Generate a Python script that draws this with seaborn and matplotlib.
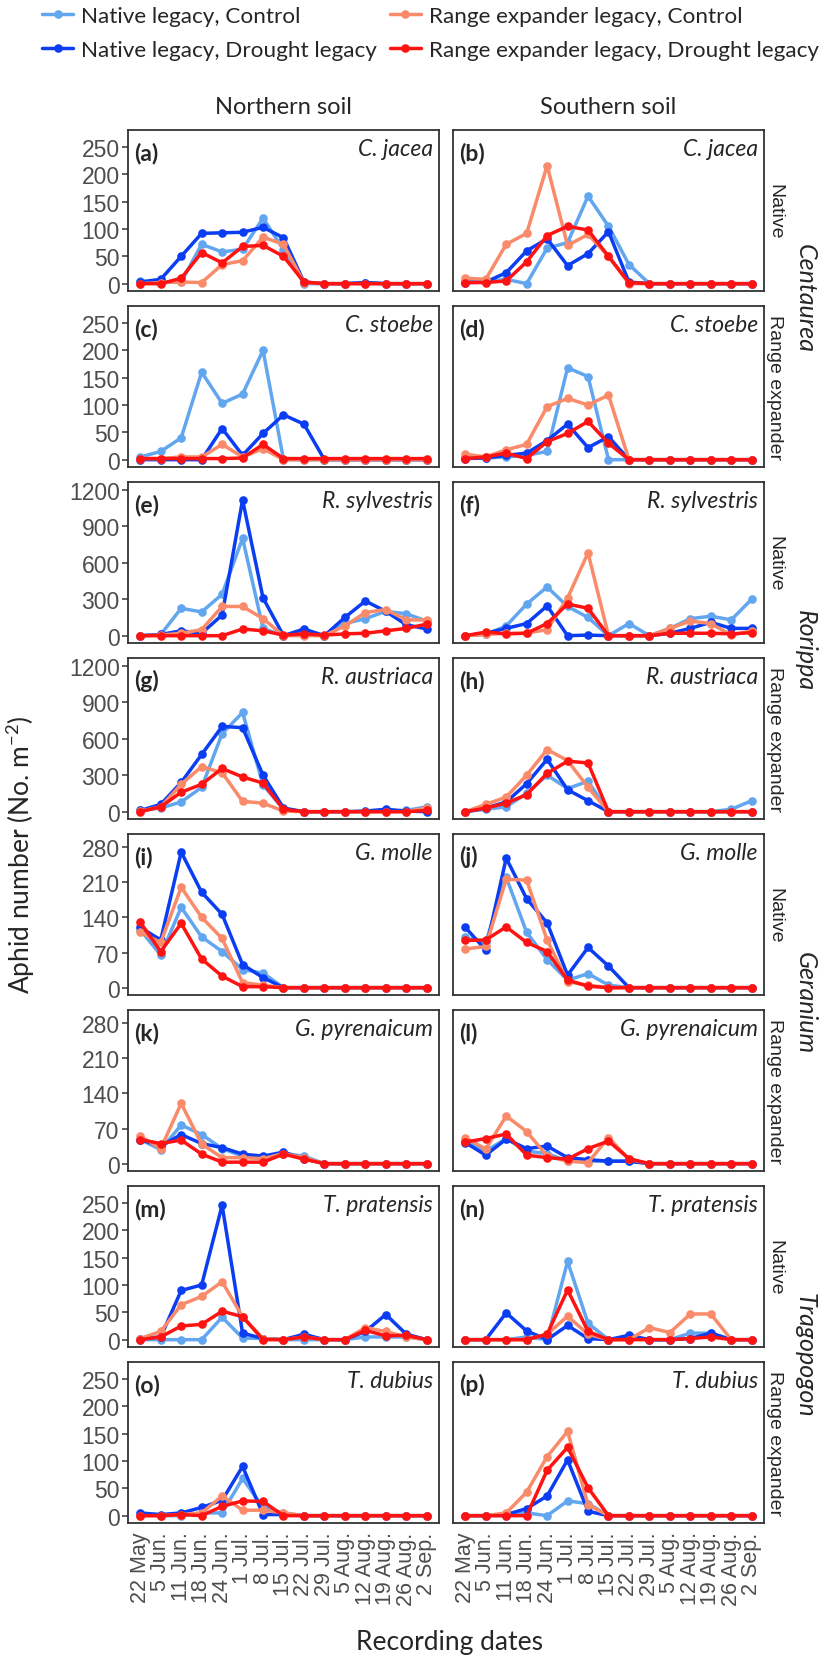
import matplotlib
matplotlib.use("Agg")
import matplotlib.pyplot as plt
from matplotlib.lines import Line2D
import pandas as pd
import seaborn as sns

# dates and treatments
dates = ["22 May", "5 Jun.", "11 Jun.", "18 Jun.", "24 Jun.", "1 Jul.", "8 Jul.",
         "15 Jul.", "22 Jul.", "29 Jul.", "5 Aug.", "12 Aug.", "19 Aug.", "26 Aug.", "2 Sep."]
treatments = ["Native legacy, Control", "Native legacy, Drought legacy",
              "Range expander legacy, Control", "Range expander legacy, Drought legacy"]
colors = ["#62A6F0", "#0B3DF2", "#F98A6A", "#FF1212"]

# each panel: native control, native drought, range exp. control, range exp. drought
panel_a = [[5, 2, 3, 72, 58, 63, 120, 62, 0, 0, 0, 2, 0, 0, 0],
           [3, 8, 50, 92, 93, 94, 103, 84, 3, 0, 0, 2, 0, 0, 0],
           [0, 2, 3, 2, 35, 42, 85, 72, 2, 0, 0, 0, 0, 0, 0],
           [0, 0, 10, 57, 38, 68, 70, 50, 3, 0, 0, 0, 0, 0, 0]]
panel_b = [[5, 3, 8, 0, 65, 75, 160, 105, 35, 0, 0, 0, 0, 0, 0],
           [2, 3, 20, 60, 82, 33, 55, 95, 3, 0, 0, 0, 0, 0, 0],
           [10, 8, 72, 92, 216, 70, 90, 50, 0, 0, 0, 0, 0, 0, 0],
           [2, 2, 5, 40, 88, 105, 98, 50, 2, 0, 0, 0, 0, 0, 0]]
panel_c = [[5, 15, 40, 160, 103, 120, 200, 0, 0, 0, 0, 0, 0, 0, 0],
           [0, 0, 0, 0, 57, 8, 48, 82, 65, 0, 0, 0, 0, 0, 0],
           [2, 2, 5, 5, 28, 5, 20, 0, 0, 0, 0, 0, 0, 0, 0],
           [2, 2, 2, 2, 2, 3, 28, 2, 2, 2, 2, 2, 2, 2, 2]]
panel_d = [[5, 3, 5, 8, 15, 168, 152, 0, 0, 0, 0, 0, 0, 0, 0],
           [2, 3, 8, 12, 35, 65, 22, 42, 0, 0, 0, 0, 0, 0, 0],
           [10, 5, 18, 28, 97, 112, 100, 118, 0, 0, 0, 0, 0, 0, 0],
           [2, 5, 12, 2, 33, 48, 70, 30, 0, 0, 0, 0, 0, 0, 0]]
panel_e = [[0, 10, 225, 195, 340, 800, 60, 0, 40, 0, 100, 140, 200, 180, 120],
           [0, 10, 40, 20, 170, 1115, 310, 0, 55, 0, 150, 285, 200, 90, 55],
           [0, 5, 20, 50, 240, 240, 140, 0, 0, 0, 80, 190, 215, 130, 130],
           [0, 0, 0, 0, 0, 55, 40, 5, 15, 5, 15, 20, 40, 60, 95]]
panel_f = [[0, 10, 80, 260, 400, 240, 150, 0, 100, 0, 60, 140, 160, 130, 300],
           [0, 20, 60, 100, 245, 0, 5, 0, 0, 0, 20, 60, 110, 60, 60],
           [0, 10, 20, 20, 50, 310, 680, 0, 0, 0, 60, 120, 100, 5, 40],
           [0, 30, 15, 20, 100, 260, 225, 0, 0, 0, 20, 20, 20, 15, 25]]
panel_g = [[10, 30, 80, 200, 640, 815, 220, 20, 0, 0, 0, 0, 5, 10, 40],
           [10, 60, 240, 470, 700, 690, 300, 30, 0, 0, 0, 5, 20, 5, 0],
           [5, 40, 225, 370, 320, 85, 70, 5, 0, 0, 0, 0, 0, 0, 30],
           [0, 40, 160, 225, 355, 285, 235, 20, 0, 0, 0, 0, 0, 0, 10]]
panel_h = [[0, 20, 40, 150, 300, 190, 250, 0, 0, 0, 0, 0, 0, 20, 90],
           [0, 30, 80, 230, 430, 180, 90, 0, 0, 0, 0, 0, 0, 0, 0],
           [0, 60, 120, 300, 510, 420, 200, 0, 0, 0, 0, 0, 0, 0, 0],
           [0, 30, 70, 140, 315, 415, 400, 0, 0, 0, 0, 0, 0, 0, 0]]
panel_i = [[115, 65, 160, 101, 72, 36, 29, 0, 0, 0, 0, 0, 0, 0, 0],
           [120, 95, 270, 190, 146, 46, 20, 0, 0, 0, 0, 0, 0, 0, 0],
           [110, 90, 200, 140, 98, 10, 5, 0, 0, 0, 0, 0, 0, 0, 0],
           [130, 72, 128, 57, 23, 2, 2, 0, 0, 0, 0, 0, 0, 0, 0]]
panel_j = [[100, 90, 220, 110, 56, 15, 28, 5, 0, 0, 0, 0, 0, 0, 0],
           [120, 75, 258, 177, 129, 25, 80, 43, 0, 0, 0, 0, 0, 0, 0],
           [77, 82, 216, 214, 95, 12, 5, 0, 0, 0, 0, 0, 0, 0, 0],
           [94, 95, 121, 90, 72, 15, 3, 0, 0, 0, 0, 0, 0, 0, 0]]
panel_k = [[48, 28, 77, 58, 30, 15, 12, 20, 15, 0, 0, 0, 0, 0, 0],
           [48, 35, 58, 40, 32, 19, 15, 23, 10, 0, 0, 0, 0, 0, 0],
           [55, 30, 120, 39, 12, 12, 10, 20, 12, 0, 0, 0, 0, 0, 0],
           [48, 40, 47, 19, 3, 3, 3, 19, 9, 0, 0, 0, 0, 0, 0]]
panel_l = [[45, 25, 50, 25, 20, 5, 5, 5, 5, 0, 0, 0, 0, 0, 0],
           [42, 17, 49, 30, 35, 12, 8, 5, 5, 0, 0, 0, 0, 0, 0],
           [52, 29, 95, 64, 15, 5, 2, 52, 9, 0, 0, 0, 0, 0, 0],
           [43, 50, 59, 17, 12, 9, 30, 45, 10, 0, 0, 0, 0, 0, 0]]
panel_m = [[0, 0, 0, 0, 41, 3, 2, 0, 0, 0, 0, 5, 5, 5, 0],
           [2, 5, 90, 100, 246, 12, 2, 0, 10, 0, 0, 15, 46, 10, 0],
           [2, 15, 64, 79, 106, 42, 2, 0, 5, 0, 0, 22, 15, 5, 0],
           [0, 5, 25, 28, 52, 42, 0, 0, 5, 0, 0, 17, 7, 8, 0]]
panel_n = [[0, 0, 0, 5, 0, 143, 30, 0, 5, 0, 0, 12, 12, 0, 0],
           [0, 0, 49, 16, 0, 26, 2, 0, 8, 0, 0, 2, 12, 0, 0],
           [0, 0, 0, 0, 10, 43, 10, 0, 0, 22, 13, 47, 47, 0, 0],
           [0, 0, 0, 0, 10, 91, 15, 0, 0, 0, 0, 2, 5, 0, 0]]
panel_o = [[2, 0, 0, 5, 5, 68, 15, 5, 0, 0, 0, 0, 0, 0, 0],
           [5, 2, 5, 15, 28, 90, 2, 2, 0, 0, 0, 0, 0, 0, 0],
           [0, 0, 2, 5, 36, 10, 10, 5, 0, 0, 0, 0, 0, 0, 0],
           [0, 0, 2, 0, 17, 27, 26, 0, 0, 0, 0, 0, 0, 0, 0]]
panel_p = [[0, 0, 0, 5, 0, 27, 22, 0, 0, 0, 0, 0, 0, 0, 0],
           [0, 0, 2, 13, 36, 102, 8, 0, 0, 0, 0, 0, 0, 0, 0],
           [0, 0, 5, 43, 108, 154, 20, 0, 0, 0, 0, 0, 0, 0, 0],
           [0, 0, 0, 0, 83, 125, 51, 0, 0, 0, 0, 0, 0, 0, 0]]

species = ["C. jacea", "C. stoebe", "R. sylvestris", "R. austriaca",
           "G. molle", "G. pyrenaicum", "T. pratensis", "T. dubius"]
genera = ["Centaurea", "Rorippa", "Geranium", "Tragopogon"]
genus_ticks = [[0, 50, 100, 150, 200, 250], [0, 300, 600, 900, 1200],
               [0, 70, 140, 210, 280], [0, 50, 100, 150, 200, 250]]
genus_ylim = [(-13.4, 281), (-60, 1262), (-14.6, 306), (-13.4, 281)]

panels = [panel_a, panel_b, panel_c, panel_d, panel_e, panel_f, panel_g, panel_h,
          panel_i, panel_j, panel_k, panel_l, panel_m, panel_n, panel_o, panel_p]
tags = "abcdefghijklmnop"

sns.set_style("white")
plt.rcParams["font.family"] = ["Liberation Sans", "DejaVu Sans"]
plt.rcParams["mathtext.default"] = "regular"
calib = ["Lato", "DejaVu Sans"]

W, H = 837, 1658
fig = plt.figure(figsize=(W / 100, H / 100), dpi=100)

col_x = [128 / W, 453 / W]
pw = 311 / W
ph = 161 / H

for k, vals in enumerate(panels):
    row, col = k // 2, k % 2
    g = row // 2
    top = 131 + 176 * row
    ax = fig.add_axes([col_x[col], 1 - (top + 161) / H, pw, ph])

    df = pd.DataFrame({
        "date": list(range(len(dates))) * 4,
        "aphids": [v for s in vals for v in s],
        "treatment": [t for t in treatments for _ in dates],
    })
    sns.lineplot(data=df, x="date", y="aphids", hue="treatment",
                 hue_order=treatments, palette=colors, marker="o",
                 markersize=6.2, markeredgewidth=0, linewidth=2.5,
                 legend=False, ax=ax)

    ax.set_xlim(-0.6, 14.6)
    ax.set_ylim(*genus_ylim[g])
    ax.set_yticks(genus_ticks[g])
    ax.set_xticks(range(len(dates)))
    ax.set_xlabel("")
    ax.set_ylabel("")
    for sp in ax.spines.values():
        sp.set_color("#333333")
        sp.set_linewidth(1.3)

    ax.tick_params(axis="y", length=4, width=1.1, color="#333333",
                   labelsize=16.5, labelcolor="#4D4D4D", pad=2, left=(col == 0),
                   labelleft=(col == 0))
    if row == 7:
        ax.set_xticklabels(dates, rotation=90)
        ax.tick_params(axis="x", length=4, width=1.1, color="#333333",
                       labelsize=15.5, labelcolor="#4D4D4D", pad=2)
    else:
        ax.tick_params(axis="x", bottom=False, labelbottom=False)

    ax.text(0.02, 0.93, "(%s)" % tags[k], transform=ax.transAxes, ha="left",
            va="top", fontsize=16.5, fontweight="bold", family=calib)
    ax.text(0.98, 0.95, species[row], transform=ax.transAxes, ha="right",
            va="top", fontsize=16.5, style="italic", family=calib)

    if col == 1:
        origin = "Native" if row % 2 == 0 else "Range expander"
        ax.text(1.035, 0.5, origin, transform=ax.transAxes, rotation=-90,
                ha="center", va="center", fontsize=14)

# genus strips
for g, name in enumerate(genera):
    yc = 1 - (131 + 176 * 2 * g + 168) / H
    fig.text(805 / W, yc, name, rotation=-90, ha="center", va="center",
             fontsize=18, style="italic", family=calib)

fig.text(283 / W, 1 - 108 / H, "Northern soil", ha="center", va="center",
         fontsize=17, family=calib)
fig.text(608 / W, 1 - 108 / H, "Southern soil", ha="center", va="center",
         fontsize=17, family=calib)
fig.text(21 / W, 1 - 855 / H, "Aphid number (No. m$^{-2}$)", rotation=90,
         ha="center", va="center", fontsize=19, family=calib)
fig.text(450 / W, 1 - 1643 / H, "Recording dates", ha="center", va="center",
         fontsize=19, family=calib)

handles = [Line2D([0], [0], color=c, lw=2.5, marker="o", markersize=6.2,
                  markeredgewidth=0) for c in colors]
fig.legend(handles, treatments, ncol=2, loc="upper left",
           bbox_to_anchor=(42 / W, 1 - 7 / H), frameon=False, handlelength=1.4,
           handletextpad=0.35, columnspacing=0.55, labelspacing=0.62,
           borderpad=0, borderaxespad=0, prop={"family": calib, "size": 16.2})

fig.savefig("out.png", dpi=100)
